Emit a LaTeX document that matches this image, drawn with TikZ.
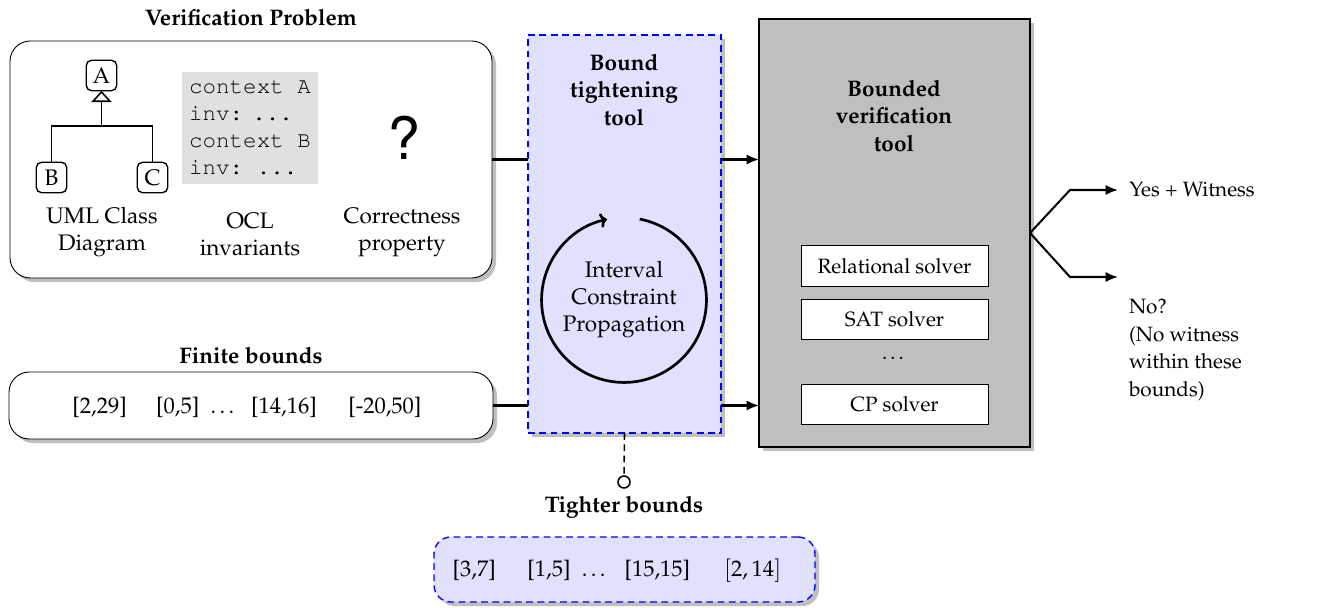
\documentclass[tikz,border=0pt]{standalone}
\usepackage[T1]{fontenc}
\usepackage{mathpazo}
\usetikzlibrary{arrows.meta,shadows,fit,calc}
\newcommand{\couriertext}{\fontfamily{pcr}\selectfont}
\newcommand{\helvtext}{\fontfamily{phv}\selectfont}
\begin{document}
\begin{tikzpicture}[x=0.444pt,y=-0.444pt,
  every node/.style={inner sep=0pt, outer sep=0pt},
  shadowed/.style={drop shadow={shadow xshift=1.8pt, shadow yshift=-1.8pt, fill=black!25, opacity=1}},
  roundbox/.style={draw, rounded corners=9pt, fill=white, shadowed},
  bluebox/.style={draw=blue, line width=0.6pt, dash pattern=on 3pt off 2pt, fill=blue!12, shadowed},
  umlclass/.style={draw, rounded corners=2.5pt, minimum size=13.6pt, semithick},
  solverbox/.style={draw, fill=white, minimum width=83pt, minimum height=17.8pt, font=\fontsize{9.2}{11}\selectfont},
  smalltext/.style={font=\fontsize{9.2}{12.4}\selectfont},
  title/.style={font=\bfseries, align=center},
  conn/.style={line width=0.9pt},
  arr/.style={line width=0.9pt, -{Latex[length=5.5pt,width=4.5pt]}},
]
\useasboundingbox (0,0) rectangle (1321,608);

% Verification problem
\node[title] (vptitle) at (251,18) {Verification Problem};
\node[roundbox, fit={(10,41)(492,278)}] (vp) {};
\node[umlclass] (A) at (101.5,75.5) {A};
\node[umlclass] (B) at (51.5,177.5) {B};
\node[umlclass] (C) at (152.5,177.5) {C};
\coordinate (j) at (101.5,126);
\draw[line width=0.7pt] (B.north) |- (j) -| (C.north);
\draw[line width=0.7pt, -{Triangle[open,width=9pt,length=5pt]}] (j) -- (A.south);
\node[fill=black!12, fit={(182,72)(318,184)}] (oclbox) {};
\node[align=left, font=\couriertext\frenchspacing] (ocltext) at (oclbox.center) {context A\\inv:\kern4pt\ldots\\context B\\inv: ...};
\node[font=\helvtext\fontsize{26}{28}\selectfont] (qm) at (404,138) {?};
\node[align=center] (umllab) at (102,232) {UML Class\\Diagram};
\node[align=center] (ocllab) at (250,234) {OCL\\invariants};
\node[align=center] (corrlab) at (402,232) {Correctness\\property};

% Finite bounds
\node[title] (fbtitle) at (251,355) {Finite bounds};
\node[roundbox, fit={(9,372)(493,439)}] (fb) {};
\node (fbtext) at (247,407) {[2,29]\hspace{13pt}[0,5]\hspace{5pt}\ldots\hspace{6pt}[14,16]\hspace{14pt}[-20,50]};

% Bound tightening tool
\node[bluebox, fit={(528,35)(721,433)}] (bt) {};
\node[title] (bttitle) at (624,90) {Bound\\tightening\\tool};
\node[align=center] (icp) at (624,300) {Interval\\Constraint\\Propagation};
\draw[line width=1.2pt, -{To[length=3pt,width=6.5pt]}]
  ([shift={(79:36.6pt)}]icp.center) arc[start angle=79, end angle=-258, radius=36.6pt];

% Connections into tightening tool
\draw[conn] (vp.east) -- (vp.east -| bt.west);
\draw[conn] (fb.east) -- (fb.east -| bt.west);

% Bounded verification tool
\node[draw, line width=1.1pt, fill=black!25, shadowed, fit={(759,19)(1030,447)}] (bv) {};
\node[title] (bvtitle) at (894,116) {Bounded\\verification\\tool};
\node[solverbox] (rel) at (894.5,266) {Relational solver};
\node[solverbox] (sat) at (894.5,319.5) {SAT solver};
\node[smalltext] (dots) at (894.5,358) {\ldots};
\node[solverbox] (cp) at (894.5,404.5) {CP solver};

\draw[arr] (bt.east |- vp.east) -- (bv.west |- vp.east);
\draw[arr] (bt.east |- fb.east) -- (bv.west |- fb.east);

% Outputs
\node[smalltext, anchor=west, inner xsep=5pt] (yes) at (1118,190) {Yes + Witness};
\coordinate (noend) at (1118,277);
\node[smalltext, anchor=west, align=left] (no) at (1129,350) {No?\\(No witness\\within these\\bounds)};
\draw[arr] (bv.east) -- (1070,190) -- (yes.west);
\draw[arr] (bv.east) -- (1070,277) -- (noend);

% Tighter bounds
\node[circle, draw, line width=0.7pt, minimum size=5.3pt, fill=white] (oc) at (624,482) {};
\draw[line width=0.7pt, dash pattern=on 3pt off 2pt] (bt.south) -- (oc.north);
\node[title] (tbtitle) at (624,507) {Tighter bounds};
\node[bluebox, rounded corners=7.5pt, fit={(434,537)(815,602)}] (tb) {};
\node (tbtext) at (617,571) {[3,7]\hspace{14pt}[1,5]\hspace{5pt}\ldots\hspace{7pt}[15,15]\hspace{15pt}$[2,14]$};
\end{tikzpicture}
\end{document}
